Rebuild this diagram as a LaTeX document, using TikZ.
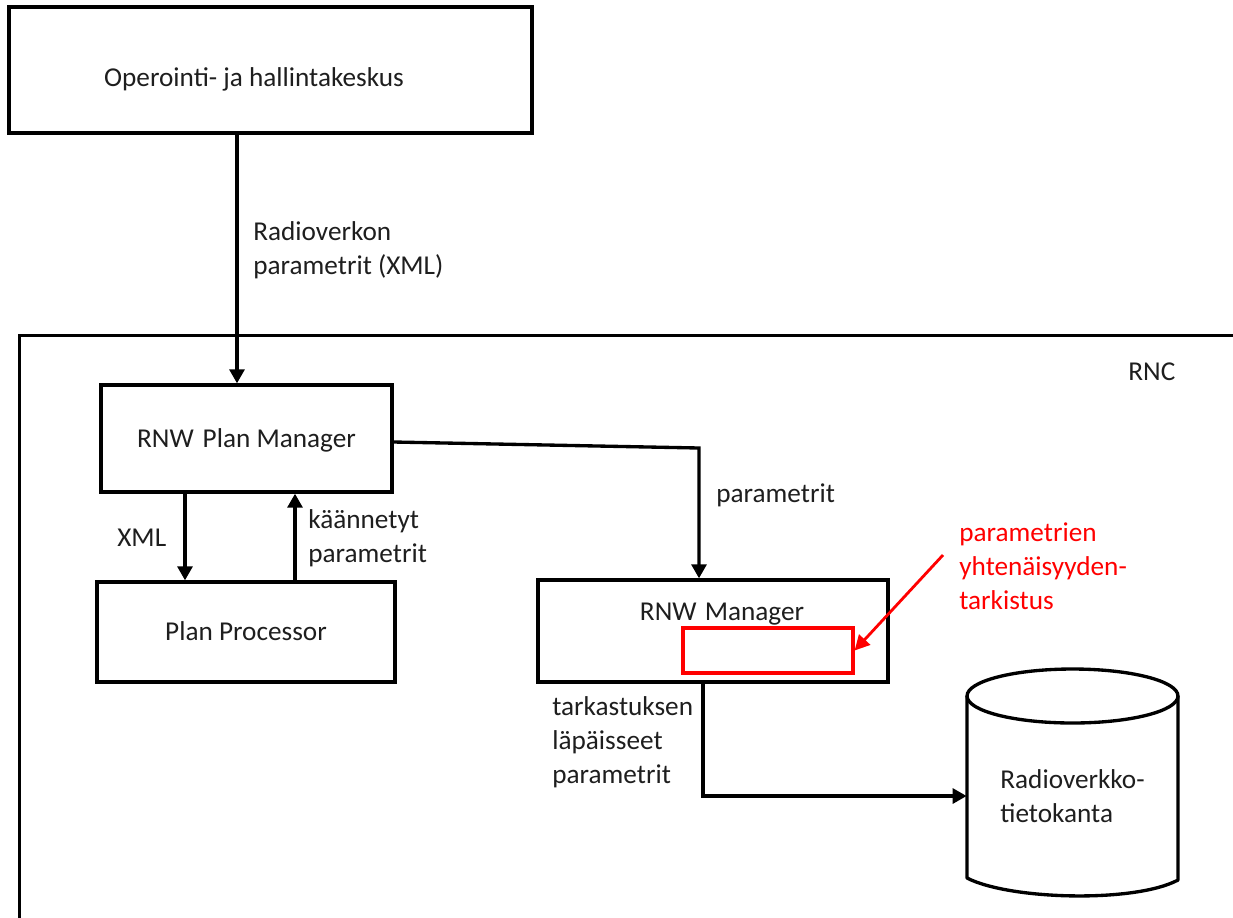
\documentclass[tikz,border=0pt]{standalone}
\usepackage{fontspec}
\setmainfont{Carlito}
\usetikzlibrary{arrows.meta,calc}
\definecolor{ink}{RGB}{30,30,30}
\definecolor{alertred}{RGB}{255,0,0}
\def\px{0.02cm}
\begin{document}
\begin{tikzpicture}[x=0.02cm, y=-0.02cm,
  txt/.style={font=\fontsize{15.5pt}{19.3pt}\selectfont, text=ink, inner sep=0pt},
  box/.style={draw=black, line width=1.9pt, inner sep=0pt, txt, text height=10pt, text depth=0pt},
  lbl/.style={txt, align=left, anchor=base west},
  arr/.style={draw=black, line width=1.9pt, -{Triangle[length=8pt,width=8.5pt]}},
  redarr/.style={draw=alertred, line width=1.6pt, -{Triangle[length=8.5pt,width=8.5pt]}},
]
\useasboundingbox (0,0) rectangle (1233,917);

% guide points for the vertical connectors
\coordinate (cA) at (237,0);
\coordinate (cB) at (185,0);
\coordinate (cC) at (295,0);
\coordinate (bend) at (699,448);
\coordinate (cD) at (703,0);
\coordinate (chktail) at (943,555);

% operations centre
\node[box, minimum width=523*\px, minimum height=126*\px] (ops) at (270.5,70) {};
\node[txt, anchor=base] (opstext) at (254,86) {Operointi- ja hallintakeskus};

% RNC frame
\node[draw=black, line width=1.9pt, minimum width=1216*\px, minimum height=700*\px,
      anchor=north west, inner sep=0pt] (rnc) at (18,334) {};
\node[txt, anchor=base west] (rnclabel) at (1128,380) {RNC};

% blocks inside the RNC
\node[box, minimum width=291*\px, minimum height=107*\px] (pm) at (246.5,438.5)
  {RNW\hspace{0.33em}Plan Manager};
\node[box, minimum width=298*\px, minimum height=100*\px] (pp) at (246,632)
  {Plan Processor};
\node[box, minimum width=350*\px, minimum height=102*\px] (rm) at (713,631) {};
\node[txt, anchor=base] (rmtext) at (722,620) {RNW\hspace{0.3em}Manager};
\node[draw=alertred, line width=1.8pt, minimum width=170*\px, minimum height=45*\px,
      inner sep=0pt] (chk) at (768,650.5) {};

% database cylinder
\node[txt, align=left, minimum width=211*\px] (db) at (1072.5,796) {Radioverkko-\\tietokanta};
\draw[line width=1.9pt, line join=round]
  (967,696) -- (967,878) .. controls (1010,900) and (1135,903) .. (1178,880) -- (1178,696);
\draw[line width=1.9pt] (1072.5,696) ellipse [x radius=2.11cm, y radius=0.54cm];

% connectors
\draw[arr] (ops.south -| cA) -- (pm.north -| cA);
\draw[arr] (pm.south -| cB) -- (pp.north -| cB);
\draw[arr] (pp.north -| cC) -- (pm.south -| cC);
\draw[arr] ($(pm.east)+(0,3.5)$) -- (bend) -- (rm.north -| bend);
\draw[arr] (rm.south -| cD) |- (db.west);
\draw[redarr] (chktail) -- (chk.east);

% connector labels (anchored at the baseline of their last line)
\node[lbl] (l1) at (253,274) {Radioverkon\\parametrit (XML)};
\node[txt, anchor=base west] (l2) at (117,546) {XML};
\node[lbl] (l3) at (308,562) {käännetyt\\parametrit};
\node[lbl] (l4) at (716,502) {parametrit};
\node[lbl] (l5) at (552,783) {tarkastuksen\\läpäisseet\\parametrit};
\node[lbl, text=alertred] (chktext) at (959,609) {parametrien\\yhtenäisyyden-\\tarkistus};
\end{tikzpicture}
\end{document}
